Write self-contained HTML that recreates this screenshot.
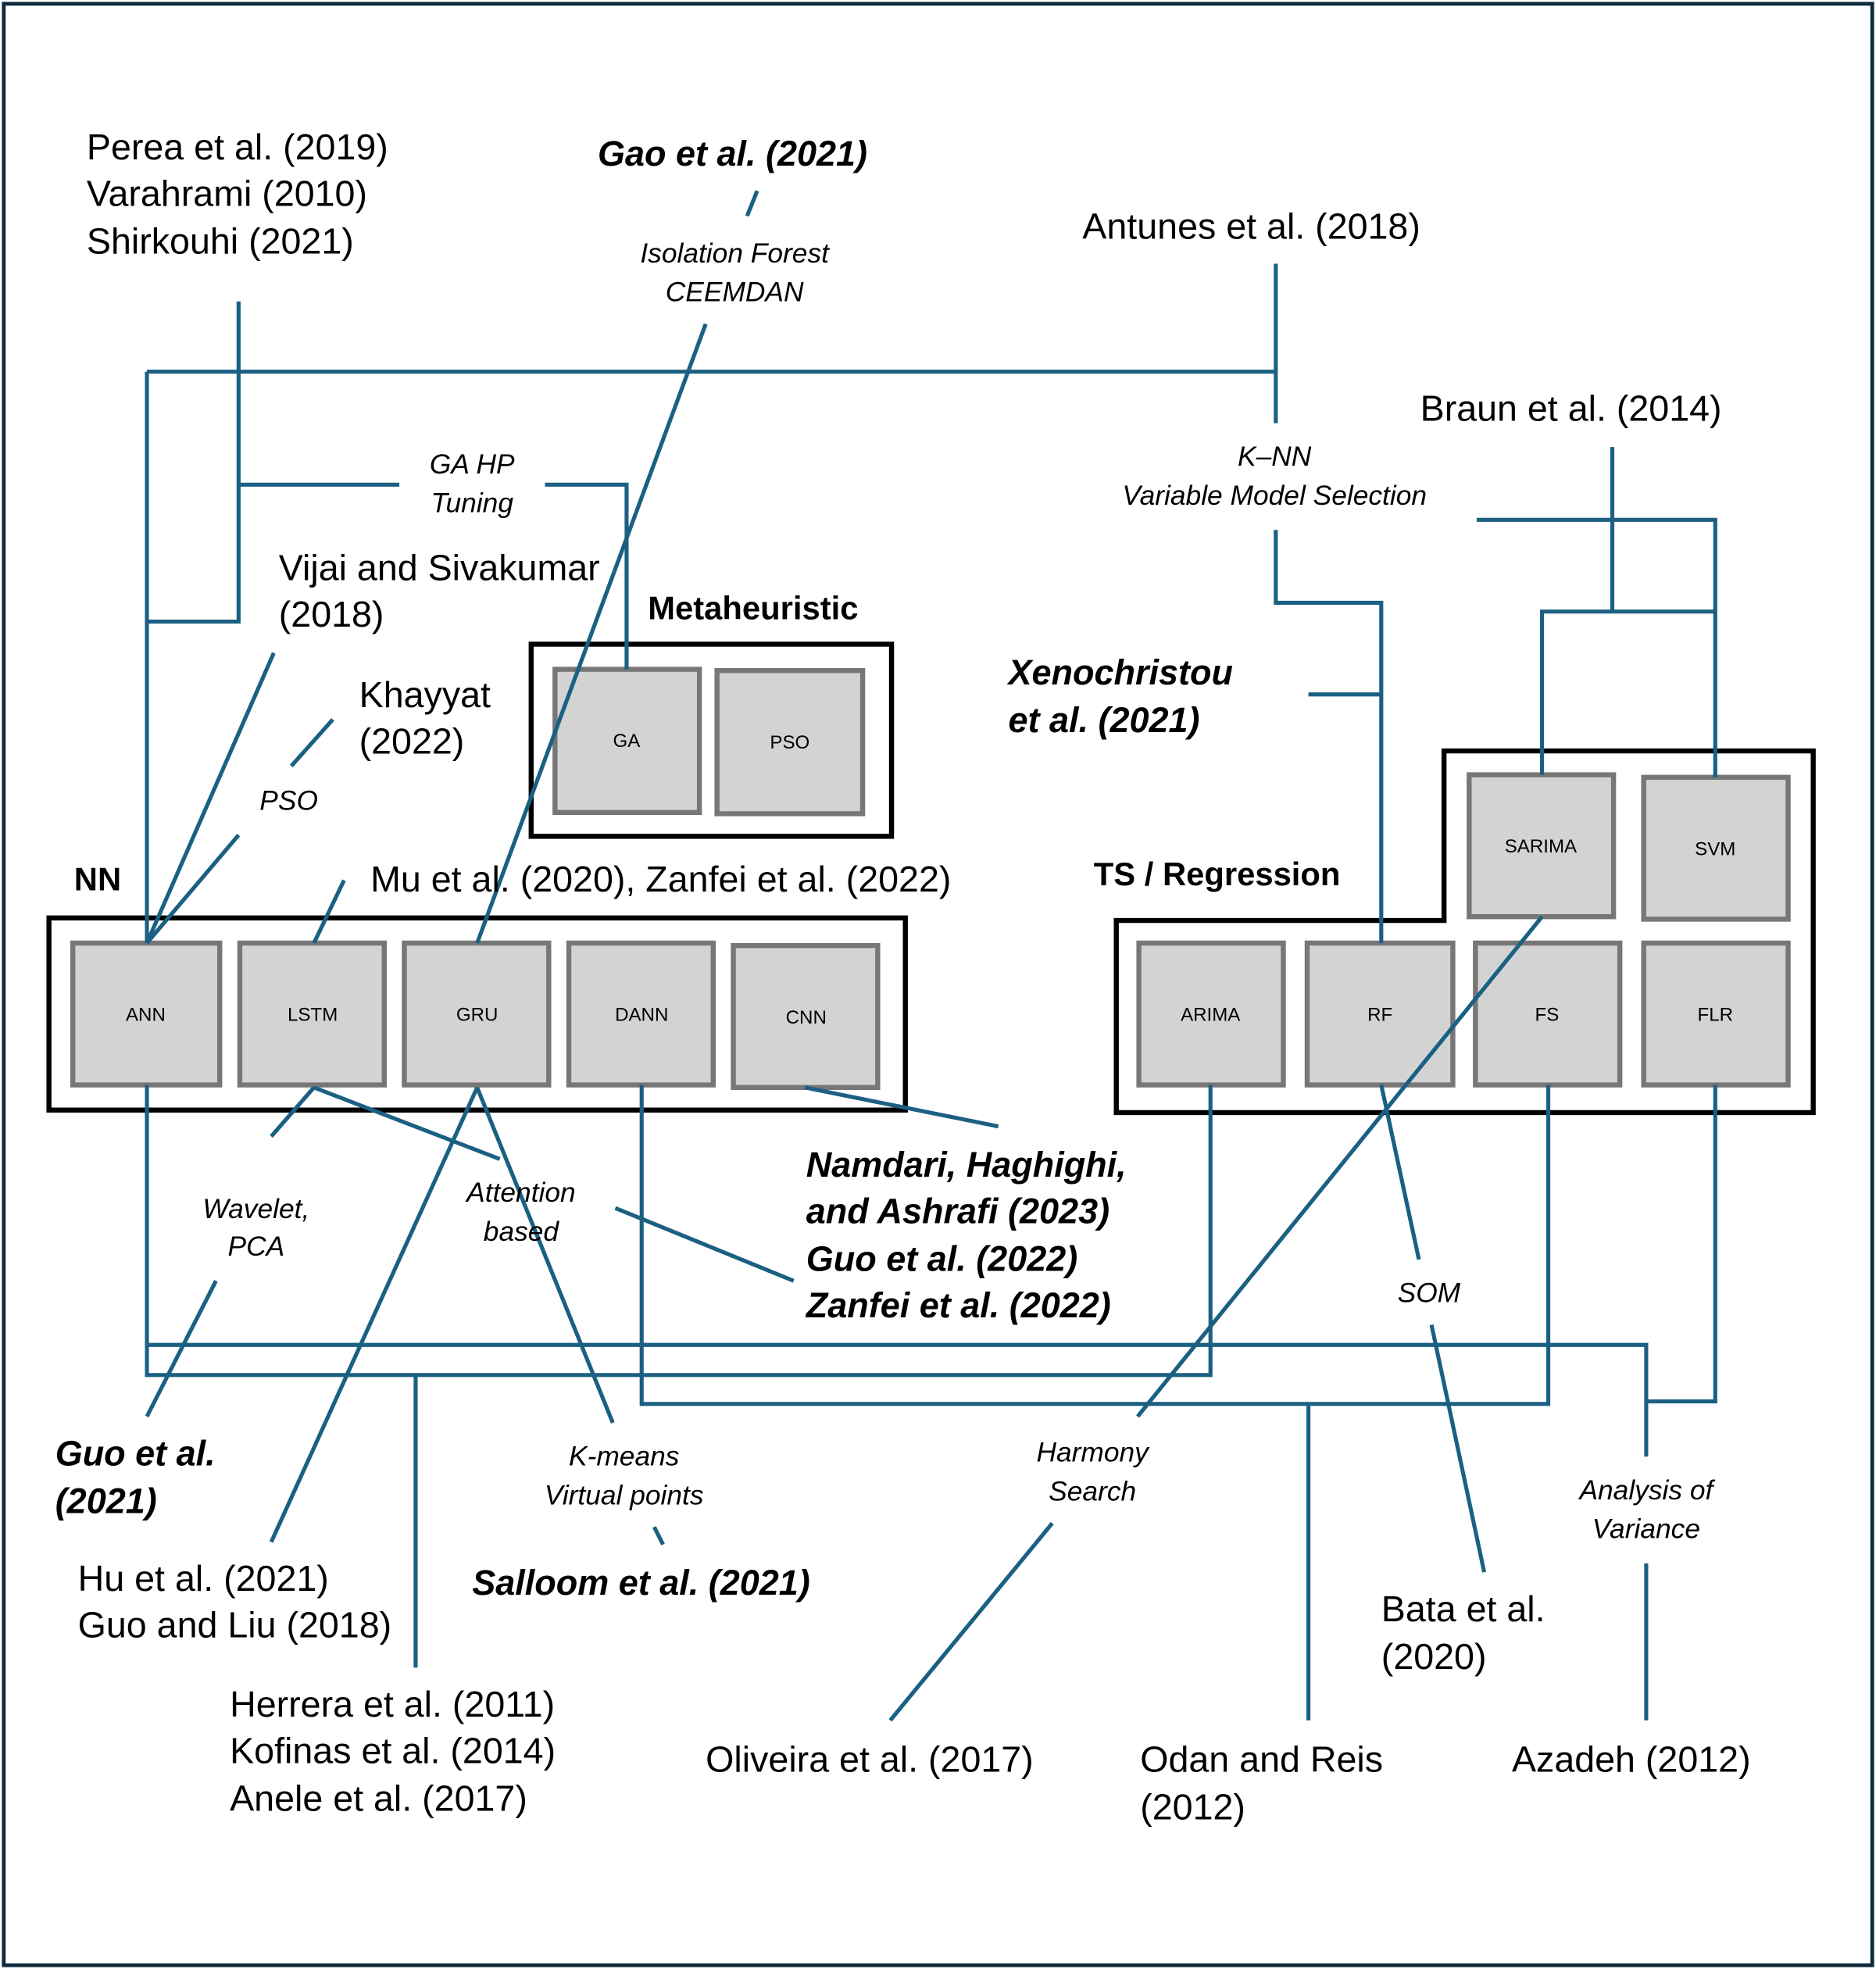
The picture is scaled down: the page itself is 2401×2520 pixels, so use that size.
<!DOCTYPE html>
<html><head><meta charset="utf-8"><style>html,body{margin:0;padding:0;background:#fff}svg{display:block}</style></head>
<body>
<svg width="2401" height="2520" viewBox="0 0 1494 1568" preserveAspectRatio="none" xmlns="http://www.w3.org/2000/svg" font-family="Liberation Sans, sans-serif">
<rect x="3" y="3" width="1488" height="1562" fill="#fff" stroke="#0f2a3d" stroke-width="3"/>
<g fill="none" stroke="#000" stroke-width="4">
<rect x="39" y="731" width="682" height="153"/>
<rect x="423" y="513" width="287" height="153"/>
<polygon points="889,733 1150,733 1150,598 1444,598 1444,886 889,886"/>
</g>
<g fill="#d3d3d3" stroke="#777" stroke-width="4">
<rect x="58" y="751" width="117" height="113"/><rect x="191" y="751" width="115" height="113"/>
<rect x="322" y="751" width="115" height="113"/><rect x="453" y="751" width="115" height="113"/>
<rect x="584" y="753" width="115" height="113"/>
<rect x="442" y="533" width="115" height="114"/><rect x="571" y="534" width="116" height="114"/>
<rect x="907" y="751" width="115" height="113"/><rect x="1041" y="751" width="116" height="113"/>
<rect x="1175" y="751" width="115" height="113"/><rect x="1309" y="751" width="115" height="113"/>
<rect x="1170" y="617" width="115" height="113"/><rect x="1309" y="619" width="115" height="113"/>
</g>
<g stroke="#1b6082" stroke-width="3.2" fill="none">
<polyline points="190,240 190,495 117,495"/>
<line x1="117" y1="296" x2="117" y2="751"/>
<line x1="117" y1="296" x2="1016" y2="296"/>
<line x1="1016" y1="210" x2="1016" y2="337"/>
<line x1="190" y1="386" x2="318" y2="386"/>
<polyline points="434,386 499,386 499,533"/>
<line x1="603" y1="152" x2="595" y2="172"/>
<line x1="562" y1="258" x2="380" y2="751"/>
<polyline points="1016,422 1016,480 1100,480 1100,751"/>
<line x1="1042" y1="553" x2="1100" y2="553"/>
<line x1="1284" y1="356" x2="1284" y2="487"/>
<polyline points="1228,617 1228,487 1366,487"/>
<polyline points="1176,414 1366,414 1366,619"/>
<line x1="218" y1="520" x2="117" y2="751"/>
<line x1="265" y1="573" x2="232" y2="610"/>
<line x1="190" y1="665" x2="117" y2="751"/>
<line x1="274" y1="701" x2="250" y2="751"/>
<polyline points="117,864 117,1095 964,1095 964,864"/>
<polyline points="117,1071 1311,1071 1311,1160"/>
<line x1="1311" y1="1245" x2="1311" y2="1370"/>
<line x1="331" y1="1095" x2="331" y2="1328"/>
<polyline points="511,864 511,1118 1233,1118 1233,864"/>
<line x1="1042" y1="1118" x2="1042" y2="1370"/>
<polyline points="1366,864 1366,1116 1311,1116"/>
<line x1="1228" y1="730" x2="906" y2="1128"/>
<line x1="838" y1="1213" x2="709" y2="1370"/>
<line x1="1100" y1="864" x2="1130" y2="1003"/>
<line x1="1140" y1="1055" x2="1182" y2="1252"/>
<line x1="641" y1="866" x2="795" y2="897"/>
<line x1="250" y1="866" x2="398" y2="923"/>
<line x1="490" y1="962" x2="632" y2="1020"/>
<line x1="250" y1="866" x2="216" y2="905"/>
<line x1="172" y1="1020" x2="117" y2="1128"/>
<line x1="380" y1="866" x2="216" y2="1228"/>
<line x1="380" y1="866" x2="488" y2="1133"/>
<line x1="521" y1="1216" x2="528" y2="1230"/>
</g>
<g font-size="15" text-anchor="middle" fill="#000">
<text x="116" y="813">ANN</text><text x="249" y="813">LSTM</text><text x="380" y="813">GRU</text>
<text x="511" y="813">DANN</text><text x="642" y="815">CNN</text>
<text x="499" y="595">GA</text><text x="629" y="596">PSO</text>
<text x="964" y="813">ARIMA</text><text x="1099" y="813">RF</text><text x="1232" y="813">FS</text>
<text x="1366" y="813">FLR</text><text x="1227" y="679">SARIMA</text><text x="1366" y="681">SVM</text>
</g>
<g font-size="26" font-weight="bold" fill="#000">
<text x="59" y="709">NN</text><text x="516" y="493">Metaheuristic</text><text x="871" y="705">TS / Regression</text>
</g>
<g font-size="29" fill="#000">
<text x="69" y="127">Perea et al. (2019)</text><text x="69" y="164">Varahrami (2010)</text><text x="69" y="202">Shirkouhi (2021)</text>
<text x="862" y="190">Antunes et al. (2018)</text>
<text x="1131" y="335">Braun et al. (2014)</text>
<text x="222" y="462">Vijai and Sivakumar</text><text x="222" y="499">(2018)</text>
<text x="286" y="563">Khayyat</text><text x="286" y="600">(2022)</text>
<text x="295" y="710">Mu et al. (2020), Zanfei et al. (2022)</text>
<text x="62" y="1267">Hu et al. (2021)</text><text x="62" y="1304">Guo and Liu (2018)</text>
<text x="183" y="1367">Herrera et al. (2011)</text><text x="183" y="1404">Kofinas et al. (2014)</text><text x="183" y="1442">Anele et al. (2017)</text>
<text x="562" y="1411">Oliveira et al. (2017)</text>
<text x="908" y="1411">Odan and Reis</text><text x="908" y="1449">(2012)</text>
<text x="1100" y="1291">Bata et al.</text><text x="1100" y="1329">(2020)</text>
<text x="1204" y="1411">Azadeh (2012)</text>
</g>
<g font-size="28" font-weight="bold" font-style="italic" fill="#000">
<text x="476" y="132">Gao et al. (2021)</text>
<text x="803" y="545">Xenochristou</text><text x="803" y="583">et al. (2021)</text>
<text x="642" y="937">Namdari, Haghighi,</text><text x="642" y="974">and Ashrafi (2023)</text>
<text x="642" y="1012">Guo et al. (2022)</text><text x="642" y="1049">Zanfei et al. (2022)</text>
<text x="44" y="1167">Guo et al.</text><text x="44" y="1205">(2021)</text>
<text x="376" y="1270">Salloom et al. (2021)</text>
</g>
<g font-size="22" font-style="italic" fill="#000" text-anchor="middle">
<text x="585" y="209">Isolation Forest</text><text x="585" y="240">CEEMDAN</text>
<text x="376" y="377">GA HP</text><text x="376" y="408">Tuning</text>
<text x="1015" y="371">K–NN</text><text x="1015" y="402">Variable Model Selection</text>
<text x="230" y="645">PSO</text>
<text x="204" y="970">Wavelet,</text><text x="204" y="1000">PCA</text>
<text x="415" y="957">Attention</text><text x="415" y="988">based</text>
<text x="497" y="1167">K-means</text><text x="497" y="1198">Virtual points</text>
<text x="870" y="1164">Harmony</text><text x="870" y="1195">Search</text>
<text x="1138" y="1037">SOM</text>
<text x="1311" y="1194">Analysis of</text><text x="1311" y="1225">Variance</text>
</g>
</svg>
</body></html>
